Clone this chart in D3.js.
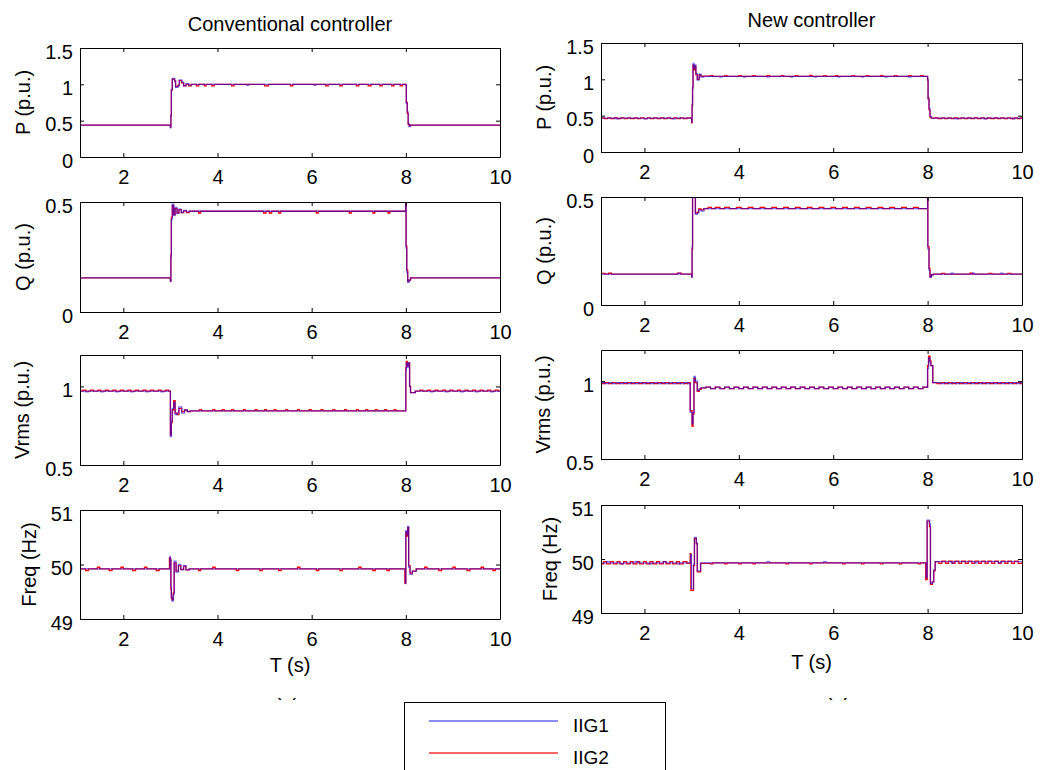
<!DOCTYPE html>
<html>
<head>
<meta charset="utf-8">
<script src="https://cdn.jsdelivr.net/npm/d3@7"></script>
<style>
  html, body { margin: 0; padding: 0; background: #fff; }
  svg text { font-family: "Liberation Sans", Arial, Helvetica, sans-serif; fill: #000; }
</style>
</head>
<body>
<svg id="chart" width="1057" height="770"></svg>
<script>
// ---- Shared axis settings ----
const timeDomain = [1.08, 10];
const xTicks = [2, 4, 6, 8, 10];
const pTicks = [0, 0.5, 1, 1.5];
const qTicks = [0, 0.5];
const vTicks = [0.5, 1];
const fTicks = [49, 50, 51];
const pDomain = [0, 1.5];
const qDomain = [0, 0.5];
const vDomain = [0.5, 1.2];
const fDomain = [49, 51];
const yLabels = ["P (p.u.)", "Q (p.u.)", "Vrms (p.u.)", "Freq (Hz)"];
const columnTitles = ["Conventional controller", "New controller"];
const captions = ["(a)", "(b)"];
const xLabel = "T (s)";
const seriesNames = ["IIG1", "IIG2"];

// ---- Conventional controller: [time (s), value] samples ----
const convP_IIG1 = [[1.08,.44],[3.0,.40],[3.01,.58],[3.02,.93],[3.04,1.08],[3.09,1.05],[3.11,.96],[3.16,.98],[3.19,1.06],[3.24,1.03],[3.28,.98],[3.33,1.01],[3.39,.99],[3.45,1.0],[4.62,.985],[4.66,1.0],[6.05,.985],[6.09,1.0],[8.0,.99],[8.01,.74],[8.03,.62],[8.05,.46],[8.07,.42],[8.1,.44],[10,.44]];
const convP_IIG2 = [[1.08,.44],[3.0,.41],[3.01,.57],[3.02,.92],[3.04,1.07],[3.09,1.04],[3.11,.97],[3.16,.99],[3.19,1.05],[3.24,1.02],[3.28,.98],[3.33,1.0],[3.39,.98],[3.44,1.0],[3.55,.98],[3.6,1.0],[3.72,.98],[3.76,1.0],[3.88,.98],[3.93,1.0],[4.3,.98],[4.35,1.0],[5.0,.98],[5.08,1.0],[5.55,.98],[5.6,1.0],[6.3,.98],[6.35,1.0],[6.6,.98],[6.65,1.0],[6.95,.98],[7.0,1.0],[7.2,.98],[7.26,1.0],[7.45,.98],[7.5,1.0],[7.7,.98],[7.75,1.0],[7.88,.98],[7.93,1.0],[8.0,.99],[8.01,.75],[8.03,.6],[8.05,.45],[8.07,.43],[8.1,.44],[10,.44]];

const convQ_IIG1 = [[1.08,.155],[3.0,.138],[3.01,.25],[3.02,.42],[3.04,.49],[3.07,.44],[3.1,.475],[3.14,.448],[3.18,.468],[3.23,.452],[3.28,.462],[3.34,.455],[3.4,.458],[7.99,.458],[7.995,.5],[8.005,.29],[8.02,.18],[8.04,.135],[8.07,.145],[8.1,.155],[10,.155]];
const convQ_IIG2 = [[1.08,.155],[3.0,.14],[3.01,.26],[3.02,.43],[3.04,.485],[3.07,.442],[3.1,.47],[3.14,.45],[3.18,.465],[3.23,.452],[3.28,.46],[3.34,.452],[3.4,.458],[3.6,.45],[3.64,.458],[4.98,.45],[5.03,.458],[5.1,.45],[5.15,.458],[5.3,.45],[5.34,.458],[6.1,.45],[6.14,.458],[6.8,.45],[6.84,.458],[7.3,.45],[7.34,.458],[7.62,.45],[7.66,.458],[7.99,.458],[7.995,.5],[8.005,.3],[8.02,.19],[8.04,.14],[8.07,.145],[8.1,.155],[10,.155]];

const convV_IIG1 = [[1.08,.97],[1.2,.965],[1.26,.97],[1.52,.965],[1.58,.97],[1.84,.965],[1.9,.97],[2.16,.965],[2.22,.97],[2.48,.965],[2.54,.97],[2.8,.965],[2.86,.97],[3.0,.68],[3.02,.78],[3.04,.86],[3.07,.90],[3.1,.82],[3.14,.83],[3.18,.87],[3.24,.83],[3.3,.85],[3.36,.84],[3.42,.845],[7.99,.845],[8.0,1.1],[8.01,1.15],[8.03,1.12],[8.05,1.15],[8.08,1.0],[8.1,.96],[8.2,.97],[8.52,.965],[8.58,.97],[8.84,.965],[8.9,.97],[9.16,.965],[9.22,.97],[9.48,.965],[9.54,.97],[9.8,.965],[9.86,.97],[10,.97]];
const convV_IIG2 = [[1.08,.97],[1.14,.976],[1.2,.97],[1.3,.976],[1.36,.97],[1.46,.976],[1.52,.97],[1.62,.976],[1.68,.97],[1.78,.976],[1.84,.97],[1.94,.976],[2.0,.97],[2.1,.976],[2.16,.97],[2.26,.976],[2.32,.97],[2.42,.976],[2.48,.97],[2.58,.976],[2.64,.97],[2.74,.976],[2.8,.97],[2.9,.976],[2.96,.97],[3.0,.69],[3.02,.77],[3.04,.85],[3.07,.91],[3.1,.83],[3.14,.82],[3.18,.86],[3.24,.84],[3.3,.85],[3.36,.84],[3.42,.845],[3.62,.852],[3.66,.845],[3.9,.852],[3.94,.845],[4.1,.852],[4.14,.845],[4.3,.852],[4.34,.845],[4.55,.852],[4.59,.845],[4.8,.852],[4.84,.845],[5.0,.852],[5.04,.845],[5.2,.852],[5.24,.845],[5.45,.852],[5.49,.845],[5.7,.852],[5.74,.845],[5.95,.852],[5.99,.845],[6.2,.852],[6.24,.845],[6.45,.852],[6.49,.845],[6.7,.852],[6.74,.845],[6.95,.852],[6.99,.845],[7.15,.852],[7.19,.845],[7.35,.852],[7.39,.845],[7.55,.852],[7.59,.845],[7.75,.852],[7.79,.845],[7.99,.845],[8.0,1.12],[8.01,1.16],[8.03,1.13],[8.05,1.15],[8.08,1.0],[8.1,.96],[8.2,.97],[8.3,.976],[8.36,.97],[8.46,.976],[8.52,.97],[8.62,.976],[8.68,.97],[8.78,.976],[8.84,.97],[8.94,.976],[9.0,.97],[9.1,.976],[9.16,.97],[9.26,.976],[9.32,.97],[9.42,.976],[9.48,.97],[9.58,.976],[9.64,.97],[9.74,.976],[9.8,.97],[9.9,.976],[9.96,.97],[10,.97]];

const convF_IIG1 = [[1.08,49.92],[2.97,49.92],[2.99,50.15],[3.0,50.1],[3.01,49.6],[3.02,49.4],[3.035,49.33],[3.06,49.45],[3.08,50.06],[3.12,49.86],[3.17,50.0],[3.22,49.9],[3.28,49.98],[3.33,49.9],[3.4,49.92],[7.97,49.92],[7.99,49.65],[8.0,50.62],[8.02,50.55],[8.04,50.7],[8.06,49.95],[8.09,49.82],[8.14,49.88],[8.22,49.92],[10,49.92]];
const convF_IIG2 = [[1.08,49.92],[1.2,49.89],[1.26,49.92],[1.45,49.95],[1.5,49.92],[1.7,49.89],[1.76,49.92],[1.95,49.95],[2.0,49.92],[2.2,49.89],[2.26,49.92],[2.45,49.95],[2.5,49.92],[2.7,49.89],[2.76,49.92],[2.97,49.92],[2.98,50.12],[3.0,50.08],[3.01,49.55],[3.02,49.38],[3.035,49.35],[3.06,49.48],[3.08,50.03],[3.12,49.88],[3.17,49.98],[3.22,49.91],[3.28,49.97],[3.33,49.9],[3.4,49.92],[3.6,49.89],[3.64,49.92],[3.9,49.95],[3.95,49.92],[4.4,49.89],[4.45,49.92],[4.9,49.89],[4.95,49.92],[5.3,49.89],[5.35,49.92],[5.7,49.95],[5.75,49.92],[6.1,49.89],[6.15,49.92],[6.6,49.89],[6.65,49.92],[7.0,49.95],[7.05,49.92],[7.3,49.89],[7.35,49.92],[7.6,49.89],[7.65,49.92],[7.97,49.92],[7.98,49.66],[8.0,50.6],[8.02,50.52],[8.04,50.68],[8.06,49.98],[8.09,49.84],[8.14,49.88],[8.22,49.92],[8.4,49.95],[8.45,49.92],[8.7,49.89],[8.76,49.92],[9.0,49.95],[9.05,49.92],[9.3,49.89],[9.36,49.92],[9.6,49.95],[9.65,49.92],[9.85,49.89],[9.9,49.92],[10,49.92]];

// ---- New controller: [time (s), value] samples ----
const newP_IIG1 = [[1.08,.465],[1.4,.455],[1.45,.465],[2.0,.455],[2.05,.465],[2.6,.455],[2.65,.465],[3.0,.41],[3.01,.66],[3.02,.9],[3.03,1.22],[3.05,1.15],[3.065,1.2],[3.09,1.08],[3.12,.99],[3.16,1.07],[3.2,1.03],[3.25,1.04],[3.6,1.03],[3.64,1.04],[4.1,1.03],[4.14,1.04],[4.6,1.03],[4.64,1.04],[5.1,1.03],[5.14,1.04],[5.6,1.03],[5.64,1.04],[6.1,1.03],[6.14,1.04],[6.6,1.03],[6.64,1.04],[7.1,1.03],[7.14,1.04],[7.6,1.03],[7.64,1.04],[8.0,1.0],[8.01,.72],[8.03,.6],[8.05,.49],[8.08,.465],[8.6,.455],[8.65,.465],[9.2,.455],[9.25,.465],[9.8,.455],[9.85,.465],[10,.465]];
const newP_IIG2 = [[1.08,.47],[1.15,.46],[1.22,.47],[1.29,.46],[1.36,.47],[1.43,.46],[1.5,.47],[1.57,.46],[1.64,.47],[1.71,.46],[1.78,.47],[1.85,.46],[1.92,.47],[1.99,.46],[2.06,.47],[2.13,.46],[2.2,.47],[2.27,.46],[2.34,.47],[2.41,.46],[2.48,.47],[2.55,.46],[2.62,.47],[2.69,.46],[2.76,.47],[2.83,.46],[2.9,.47],[2.97,.465],[3.0,.40],[3.01,.64],[3.02,.88],[3.03,1.2],[3.05,1.13],[3.065,1.18],[3.09,1.06],[3.12,1.0],[3.16,1.06],[3.2,1.04],[3.25,1.045],[3.4,1.05],[3.45,1.04],[3.7,1.05],[3.75,1.04],[4.0,1.05],[4.05,1.04],[4.3,1.05],[4.35,1.04],[4.6,1.05],[4.65,1.04],[4.9,1.05],[4.95,1.04],[5.2,1.05],[5.25,1.04],[5.5,1.055],[5.55,1.04],[5.8,1.05],[5.85,1.04],[6.05,1.05],[6.1,1.04],[6.4,1.05],[6.45,1.04],[6.7,1.05],[6.75,1.04],[7.0,1.05],[7.05,1.04],[7.3,1.05],[7.35,1.04],[7.6,1.05],[7.65,1.04],[7.85,1.05],[7.9,1.04],[8.0,.99],[8.01,.74],[8.03,.58],[8.05,.48],[8.08,.465],[8.15,.47],[8.22,.46],[8.29,.47],[8.36,.46],[8.43,.47],[8.5,.46],[8.57,.47],[8.64,.46],[8.71,.47],[8.78,.46],[8.85,.47],[8.92,.46],[8.99,.47],[9.06,.46],[9.13,.47],[9.2,.46],[9.27,.47],[9.34,.46],[9.41,.47],[9.48,.46],[9.55,.47],[9.62,.46],[9.69,.47],[9.76,.46],[9.83,.47],[9.9,.46],[9.97,.47],[10,.47]];

const newQ_IIG1 = [[1.08,.143],[2.72,.148],[2.76,.143],[3.0,.128],[3.01,.27],[3.02,.5],[3.03,.56],[3.08,.42],[3.12,.425],[3.15,.44],[3.2,.435],[3.26,.446],[7.99,.446],[8.0,.56],[8.005,.26],[8.03,.16],[8.05,.128],[8.08,.14],[8.12,.143],[8.5,.147],[8.54,.143],[8.95,.147],[8.99,.143],[9.55,.147],[9.59,.143],[10,.143]];
const newQ_IIG2 = [[1.08,.146],[1.16,.143],[1.24,.147],[1.3,.143],[2.7,.148],[2.78,.143],[3.0,.13],[3.01,.26],[3.02,.5],[3.03,.56],[3.08,.425],[3.12,.43],[3.15,.445],[3.2,.44],[3.26,.446],[3.35,.452],[3.42,.446],[3.5,.452],[3.6,.446],[3.7,.452],[3.8,.446],[3.95,.452],[4.05,.446],[4.2,.452],[4.3,.446],[4.45,.452],[4.55,.446],[4.7,.452],[4.8,.446],[4.95,.452],[5.05,.446],[5.2,.452],[5.3,.446],[5.45,.452],[5.55,.446],[5.7,.452],[5.8,.446],[5.95,.452],[6.05,.446],[6.2,.452],[6.3,.446],[6.45,.452],[6.55,.446],[6.7,.452],[6.8,.446],[6.95,.452],[7.05,.446],[7.2,.452],[7.3,.446],[7.45,.452],[7.55,.446],[7.7,.452],[7.8,.446],[7.99,.446],[8.0,.56],[8.005,.27],[8.03,.17],[8.05,.13],[8.08,.14],[8.12,.143],[8.3,.146],[8.36,.143],[8.9,.147],[8.95,.143],[9.3,.146],[9.36,.143],[9.7,.146],[9.76,.143],[10,.143]];

const newV_IIG1 = [[1.08,.99],[1.16,.985],[1.24,.99],[1.32,.985],[1.4,.99],[1.48,.985],[1.56,.99],[1.64,.985],[1.72,.99],[1.8,.985],[1.88,.99],[1.96,.985],[2.04,.99],[2.12,.985],[2.2,.99],[2.28,.985],[2.36,.99],[2.44,.985],[2.52,.99],[2.6,.985],[2.68,.99],[2.76,.985],[2.84,.99],[2.92,.985],[2.97,.80],[3.01,.725],[3.03,.80],[3.05,1.03],[3.08,1.0],[3.12,.94],[3.16,.95],[3.2,.957],[3.3,.962],[3.4,.952],[3.5,.962],[3.6,.952],[3.7,.962],[3.8,.952],[3.9,.962],[4.0,.952],[4.1,.962],[4.2,.952],[4.3,.962],[4.4,.952],[4.5,.962],[4.6,.952],[4.7,.962],[4.8,.952],[4.9,.962],[5.0,.952],[5.1,.962],[5.2,.952],[5.3,.962],[5.4,.952],[5.5,.962],[5.6,.952],[5.7,.962],[5.8,.952],[5.9,.962],[6.0,.952],[6.1,.962],[6.2,.952],[6.3,.962],[6.4,.952],[6.5,.962],[6.6,.952],[6.7,.962],[6.8,.952],[6.9,.962],[7.0,.952],[7.1,.962],[7.2,.952],[7.3,.962],[7.4,.952],[7.5,.962],[7.6,.952],[7.7,.962],[7.8,.952],[7.9,.962],[7.99,.96],[8.0,1.08],[8.02,1.15],[8.05,1.12],[8.07,1.1],[8.11,.99],[8.2,.99],[8.28,.985],[8.36,.99],[8.44,.985],[8.52,.99],[8.6,.985],[8.68,.99],[8.76,.985],[8.84,.99],[8.92,.985],[9.0,.99],[9.08,.985],[9.16,.99],[9.24,.985],[9.32,.99],[9.4,.985],[9.48,.99],[9.56,.985],[9.64,.99],[9.72,.985],[9.8,.99],[9.88,.985],[9.96,.99],[10,.99]];
const newV_IIG2 = [[1.08,.985],[1.16,.99],[1.24,.985],[1.32,.99],[1.4,.985],[1.48,.99],[1.56,.985],[1.64,.99],[1.72,.985],[1.8,.99],[1.88,.985],[1.96,.99],[2.04,.985],[2.12,.99],[2.2,.985],[2.28,.99],[2.36,.985],[2.44,.99],[2.52,.985],[2.6,.99],[2.68,.985],[2.76,.99],[2.84,.985],[2.92,.99],[2.97,.81],[3.01,.71],[3.03,.79],[3.05,1.02],[3.08,.99],[3.12,.935],[3.16,.948],[3.2,.957],[3.3,.962],[3.4,.952],[3.5,.962],[3.6,.952],[3.7,.962],[3.8,.952],[3.9,.962],[4.0,.952],[4.1,.962],[4.2,.952],[4.3,.962],[4.4,.952],[4.5,.962],[4.6,.952],[4.7,.962],[4.8,.952],[4.9,.962],[5.0,.952],[5.1,.962],[5.2,.952],[5.3,.962],[5.4,.952],[5.5,.962],[5.6,.952],[5.7,.962],[5.8,.952],[5.9,.962],[6.0,.952],[6.1,.962],[6.2,.952],[6.3,.962],[6.4,.952],[6.5,.962],[6.6,.952],[6.7,.962],[6.8,.952],[6.9,.962],[7.0,.952],[7.1,.962],[7.2,.952],[7.3,.962],[7.4,.952],[7.5,.962],[7.6,.952],[7.7,.962],[7.8,.952],[7.9,.962],[7.99,.96],[8.0,1.1],[8.02,1.16],[8.05,1.13],[8.07,1.1],[8.11,.99],[8.2,.985],[8.28,.99],[8.36,.985],[8.44,.99],[8.52,.985],[8.6,.99],[8.68,.985],[8.76,.99],[8.84,.985],[8.92,.99],[9.0,.985],[9.08,.99],[9.16,.985],[9.24,.99],[9.32,.985],[9.4,.99],[9.48,.985],[9.56,.99],[9.64,.985],[9.72,.99],[9.8,.985],[9.88,.99],[9.96,.985],[10,.985]];

const newF_IIG1 = [[1.08,49.93],[1.2,49.95],[1.25,49.93],[1.5,49.91],[1.55,49.93],[1.8,49.95],[1.86,49.93],[2.1,49.91],[2.15,49.93],[2.4,49.95],[2.45,49.93],[2.7,49.91],[2.75,49.93],[2.97,49.93],[2.98,50.08],[2.995,49.45],[3.04,49.9],[3.06,50.4],[3.1,50.3],[3.12,49.78],[3.19,49.93],[4.6,49.95],[4.65,49.93],[5.8,49.95],[5.85,49.93],[7.96,49.93],[7.97,49.65],[7.99,50.72],[8.04,50.65],[8.06,49.55],[8.1,49.58],[8.13,49.8],[8.16,49.95],[8.5,49.93],[8.55,49.95],[9.0,49.93],[9.05,49.95],[9.5,49.93],[9.55,49.95],[10,49.95]];
const newF_IIG2 = [[1.08,49.91],[1.14,49.95],[1.2,49.91],[1.28,49.95],[1.34,49.91],[1.42,49.95],[1.48,49.91],[1.56,49.95],[1.62,49.91],[1.7,49.95],[1.76,49.91],[1.84,49.95],[1.9,49.91],[1.98,49.95],[2.04,49.91],[2.12,49.95],[2.18,49.91],[2.26,49.95],[2.32,49.91],[2.4,49.95],[2.46,49.91],[2.54,49.95],[2.6,49.91],[2.68,49.95],[2.74,49.91],[2.82,49.95],[2.9,49.92],[2.97,50.1],[2.985,49.42],[3.04,49.88],[3.06,50.38],[3.1,50.28],[3.12,49.76],[3.19,49.92],[3.4,49.91],[3.45,49.93],[3.7,49.91],[3.75,49.93],[4.0,49.91],[4.05,49.93],[4.3,49.91],[4.35,49.93],[5.0,49.91],[5.05,49.93],[5.5,49.91],[5.55,49.93],[6.2,49.91],[6.25,49.93],[6.6,49.91],[6.65,49.93],[7.0,49.91],[7.05,49.93],[7.4,49.91],[7.45,49.93],[7.8,49.91],[7.85,49.93],[7.96,49.62],[7.99,50.7],[8.04,50.6],[8.06,49.53],[8.1,49.57],[8.13,49.78],[8.16,49.95],[8.24,49.92],[8.3,49.96],[8.38,49.92],[8.44,49.96],[8.52,49.92],[8.58,49.96],[8.66,49.92],[8.72,49.96],[8.8,49.92],[8.86,49.96],[8.94,49.92],[9.0,49.96],[9.08,49.92],[9.14,49.96],[9.22,49.92],[9.28,49.96],[9.36,49.92],[9.42,49.96],[9.5,49.92],[9.56,49.96],[9.64,49.92],[9.7,49.96],[9.78,49.92],[9.84,49.96],[9.92,49.92],[10,49.94]];

// ---- Figure layout ----
const svg = d3.select("#chart");
const FONT = 20;
const blue = "#0000ff", red = "#ff0000";

const columns = [
  { x0: 80, x1: 500, rows: [[48,157],[202,312],[355,465],[510,619]], ylabX: [30,30,29,36],
    titleY: 31, xlabY: 672, captionX: 287,
    series: [[convP_IIG1, convP_IIG2],[convQ_IIG1, convQ_IIG2],[convV_IIG1, convV_IIG2],[convF_IIG1, convF_IIG2]] },
  { x0: 601, x1: 1022, rows: [[43,152],[197,305],[350,459],[505,613]], ylabX: [551,551,550,557],
    titleY: 27, xlabY: 669, captionX: 838,
    series: [[newP_IIG1, newP_IIG2],[newQ_IIG1, newQ_IIG2],[newV_IIG1, newV_IIG2],[newF_IIG1, newF_IIG2]] }
];
const rowScales = [
  { domain: pDomain, ticks: pTicks },
  { domain: qDomain, ticks: qTicks },
  { domain: vDomain, ticks: vTicks },
  { domain: fDomain, ticks: fTicks }
];

columns.forEach((col, ci) => {
  const x = d3.scaleLinear().domain(timeDomain).range([col.x0, col.x1]);

  // column title
  svg.append("text")
    .attr("x", (col.x0 + col.x1) / 2).attr("y", col.titleY)
    .attr("text-anchor", "middle").attr("font-size", FONT)
    .text(columnTitles[ci]);

  col.rows.forEach(([y0, y1], ri) => {
    const rs = rowScales[ri];
    const y = d3.scaleLinear().domain(rs.domain).range([y1, y0]);
    const g = svg.append("g");
    const clipId = `clip-${ci}-${ri}`;
    g.append("clipPath").attr("id", clipId)
      .append("rect").attr("x", col.x0).attr("y", y0)
      .attr("width", col.x1 - col.x0).attr("height", y1 - y0);

    const line = d3.line()
      .x(d => x(d[0])).y(d => y(d[1]))
      .curve(d3.curveStepAfter);

    const [s1, s2] = col.series[ri];
    const traces = g.append("g").attr("clip-path", `url(#${clipId})`);
    traces.append("path").datum(s2)
      .attr("d", line).attr("fill", "none")
      .attr("stroke", red).attr("stroke-width", 1.3);
    traces.append("path").datum(s1)
      .attr("d", line).attr("fill", "none")
      .attr("stroke", blue).attr("stroke-opacity", 0.55).attr("stroke-width", 1.3);

    // axes with inward ticks on all four sides
    const bottom = g.append("g").attr("transform", `translate(0,${y1})`)
      .call(d3.axisBottom(x).tickValues(xTicks).tickSizeInner(-4).tickSizeOuter(0).tickPadding(13));
    bottom.selectAll("text").attr("font-size", FONT);
    g.append("g").attr("transform", `translate(0,${y0})`)
      .call(d3.axisTop(x).tickValues(xTicks).tickSizeInner(-4).tickSizeOuter(0).tickFormat(""));
    const left = g.append("g").attr("transform", `translate(${col.x0},0)`)
      .call(d3.axisLeft(y).tickValues(rs.ticks).tickSizeInner(-4).tickSizeOuter(0).tickPadding(7)
        .tickFormat(d => String(d)));
    left.selectAll("text").attr("font-size", FONT).attr("dy", "0.5em");
    g.append("g").attr("transform", `translate(${col.x1},0)`)
      .call(d3.axisRight(y).tickValues(rs.ticks).tickSizeInner(-4).tickSizeOuter(0).tickFormat(""));
    g.selectAll(".domain, .tick line").attr("stroke", "#000");

    // y label
    svg.append("text")
      .attr("transform", `translate(${col.ylabX[ri]},${(y0 + y1) / 2}) rotate(-90)`)
      .attr("text-anchor", "middle").attr("font-size", FONT)
      .text(yLabels[ri]);
  });

  // x label under the bottom panel
  svg.append("text")
    .attr("x", (col.x0 + col.x1) / 2).attr("y", col.xlabY)
    .attr("text-anchor", "middle").attr("font-size", FONT)
    .text(xLabel);
});

// sub-figure captions, mostly hidden below the plots
svg.append("clipPath").attr("id", "capclip")
  .append("rect").attr("x", 0).attr("y", 698).attr("width", 1057).attr("height", 5);
columns.forEach((col, ci) => {
  svg.append("text")
    .attr("clip-path", "url(#capclip)")
    .attr("x", col.captionX).attr("y", 696)
    .attr("text-anchor", "middle").attr("font-size", FONT)
    .text(captions[ci]);
});

// legend
const lg = svg.append("g");
lg.append("rect").attr("x", 404.5).attr("y", 702.5).attr("width", 261).attr("height", 90)
  .attr("fill", "#fff").attr("stroke", "#000").attr("stroke-width", 1);
const legendItems = [
  { name: seriesNames[0], color: blue, opacity: 0.6, y: 721 },
  { name: seriesNames[1], color: red, opacity: 0.8, y: 753 }
];
legendItems.forEach(it => {
  lg.append("line").attr("x1", 429).attr("x2", 558).attr("y1", it.y).attr("y2", it.y)
    .attr("stroke", it.color).attr("stroke-opacity", it.opacity).attr("stroke-width", 1.5);
  lg.append("text").attr("x", 573).attr("y", it.y + 11)
    .attr("font-size", 19).text(it.name);
});
</script>
</body>
</html>
